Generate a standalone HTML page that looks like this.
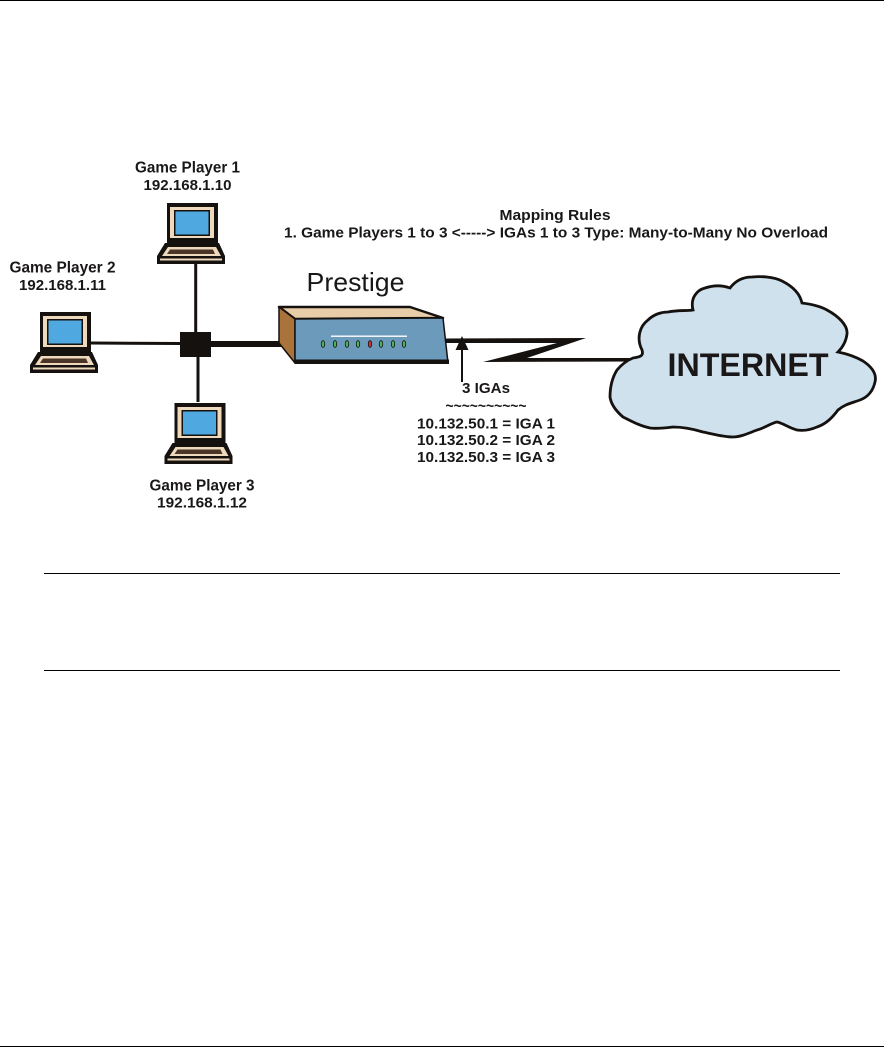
<!DOCTYPE html>
<html lang="en">
<head>
<meta charset="utf-8">
<title>Many-to-Many No Overload mapping diagram</title>
<style>
html,body{margin:0;padding:0;background:#fff;width:884px;height:1047px;overflow:hidden}
svg{display:block;position:absolute;left:0;top:0}
text{font-family:"Liberation Sans",sans-serif;font-weight:bold;fill:#1a1718;text-anchor:middle}
</style>
</head>
<body>
<svg width="884" height="1047" viewBox="0 0 884 1047" xmlns="http://www.w3.org/2000/svg">
<defs>
<g id="laptop">
  <rect x="167" y="203" width="51" height="40" fill="#15110f"/>
  <rect x="170" y="207" width="44" height="31" fill="#eed9bd"/>
  <rect x="174" y="210" width="36" height="26" fill="#15110f"/>
  <rect x="175.5" y="211.5" width="33" height="23" fill="#4fa8e0"/>
  <polygon points="165,243 219,243 225,256 225,264 157,264 157,256" fill="#15110f"/>
  <polygon points="168,247 216,247 221,256 162,256" fill="#eed9bd"/>
  <polygon points="170,249.500 213,249.500 215,254 167,254" fill="#4a3526"/>
  <rect x="160" y="258.5" width="62" height="2" fill="#eed9bd"/>
</g>
</defs>

<!-- page rules -->
<rect x="0" y="0" width="884" height="1" fill="#000"/>
<rect x="0" y="1046" width="884" height="1" fill="#000"/>
<rect x="44" y="573" width="796" height="1" fill="#000"/>
<rect x="44" y="670" width="796" height="1" fill="#000"/>

<!-- network lines -->
<g stroke="#15110f" fill="none">
  <line x1="195.7" y1="262" x2="195.7" y2="334" stroke-width="3"/>
  <line x1="91" y1="343" x2="181" y2="343.5" stroke-width="3"/>
  <line x1="198" y1="356" x2="198" y2="402" stroke-width="3"/>
  <line x1="210" y1="344" x2="281" y2="344" stroke-width="6"/>
</g>
<rect x="180" y="332" width="31" height="25" fill="#15110f"/>

<use href="#laptop"/>
<use href="#laptop" transform="translate(-127 109)"/>
<use href="#laptop" transform="translate(7.5 200)"/>

<!-- router -->
<polygon points="279,307 410,307 443,318 295,319" fill="#e9cda9" stroke="#15110f" stroke-width="2.500" stroke-linejoin="round"/>
<polygon points="279,307 295,319 295,363 279,343" fill="#a9733b" stroke="#15110f" stroke-width="1.5" stroke-linejoin="round"/>
<polygon points="295,319 443,318 448,363 295,363" fill="#6c9abb" stroke="#15110f" stroke-width="1.5" stroke-linejoin="round"/>
<rect x="295" y="359.500" width="154" height="4.500" fill="#15110f"/>
<rect x="331" y="335.5" width="76" height="1.4" fill="#fff"/>
<g stroke="#15110f" stroke-width=".8" fill="#4fb55a">
  <ellipse cx="323" cy="344" rx="1.7" ry="3.4"/>
  <ellipse cx="335" cy="344" rx="1.7" ry="3.4"/>
  <ellipse cx="347" cy="344" rx="1.7" ry="3.4"/>
  <ellipse cx="358" cy="344" rx="1.7" ry="3.4"/>
  <ellipse cx="370" cy="344" rx="1.7" ry="3.4" fill="#c8333c"/>
  <ellipse cx="381" cy="344" rx="1.7" ry="3.4"/>
  <ellipse cx="393" cy="344" rx="1.7" ry="3.4"/>
  <ellipse cx="404" cy="344" rx="1.7" ry="3.4"/>
</g>

<!-- WAN zigzag -->
<polygon points="446,338.500 586,338 527,358 640,358 640,361.500 483,362 557,343 446,343" fill="#15110f"/>
<line x1="462" y1="345" x2="462" y2="382" stroke="#15110f" stroke-width="2"/>
<polygon points="462,336 468.500,350 455.500,350" fill="#15110f"/>

<!-- cloud -->
<path d="M633,358 C640,357 644,356 642,350 C636,338 640,326 648,320 C654,314 662,312 668,312 C678,310 686,311 693,310 C690,298 697,290 705,288 C714,285 722,285 730,288 C736,280 744,277 752,277 C762,276 774,277 782,281 C794,287 800,294 802,303 C810,304 820,306 827,310 C838,316 848,325 847,334 C846,342 842,348 838,352 C848,354 856,357 863,361 C872,367 877,374 875,382 C873,391 868,397 860,400 C852,403 845,404 838,410 C832,418 826,424 817,427 C810,430 803,431 797,430 C789,428 783,423 777,422 C771,423 765,428 757,430 C749,433 741,437 733,437 C723,437 713,434 703,432 C693,429 683,427 673,427 C665,428 657,429 650,428 C640,426 631,421 623,417 C616,411 611,404 610,397 C610,387 612,378 617,370 C622,364 628,360 633,358 Z" fill="#cfe1ed" stroke="#15110f" stroke-width="2.800"/>

<!-- labels -->
<text x="187.500" y="172.500" font-size="15.500" textLength="105" lengthAdjust="spacingAndGlyphs">Game Player 1</text>
<text x="187.500" y="190" font-size="14.500" textLength="88" lengthAdjust="spacingAndGlyphs">192.168.1.10</text>
<text x="62.500" y="272.500" font-size="15.500" textLength="106" lengthAdjust="spacingAndGlyphs">Game Player 2</text>
<text x="62.500" y="290" font-size="14.500" textLength="87" lengthAdjust="spacingAndGlyphs">192.168.1.11</text>
<text x="202" y="490.500" font-size="15.500" textLength="105" lengthAdjust="spacingAndGlyphs">Game Player 3</text>
<text x="202" y="507.500" font-size="14.500" textLength="90" lengthAdjust="spacingAndGlyphs">192.168.1.12</text>

<text x="555" y="220" font-size="15" textLength="111" lengthAdjust="spacingAndGlyphs">Mapping Rules</text>
<text x="556" y="237.500" font-size="15" textLength="544" lengthAdjust="spacingAndGlyphs">1. Game Players 1 to 3 &lt;-----&gt; IGAs 1 to 3 Type: Many-to-Many No Overload</text>

<text x="355.500" y="291" font-size="26" textLength="98" lengthAdjust="spacingAndGlyphs" style="font-weight:normal">Prestige</text>

<text x="486" y="393" font-size="15" textLength="48" lengthAdjust="spacingAndGlyphs">3 IGAs</text>
<text x="486" y="411" font-size="15" textLength="81" lengthAdjust="spacingAndGlyphs">~~~~~~~~~~</text>
<text x="486" y="428.500" font-size="15" textLength="138" lengthAdjust="spacingAndGlyphs">10.132.50.1 = IGA 1</text>
<text x="486" y="445" font-size="15" textLength="138" lengthAdjust="spacingAndGlyphs">10.132.50.2 = IGA 2</text>
<text x="486" y="462" font-size="15" textLength="138" lengthAdjust="spacingAndGlyphs">10.132.50.3 = IGA 3</text>

<text x="748" y="376" font-size="32" textLength="161" lengthAdjust="spacingAndGlyphs">INTERNET</text>
</svg>
</body>
</html>
